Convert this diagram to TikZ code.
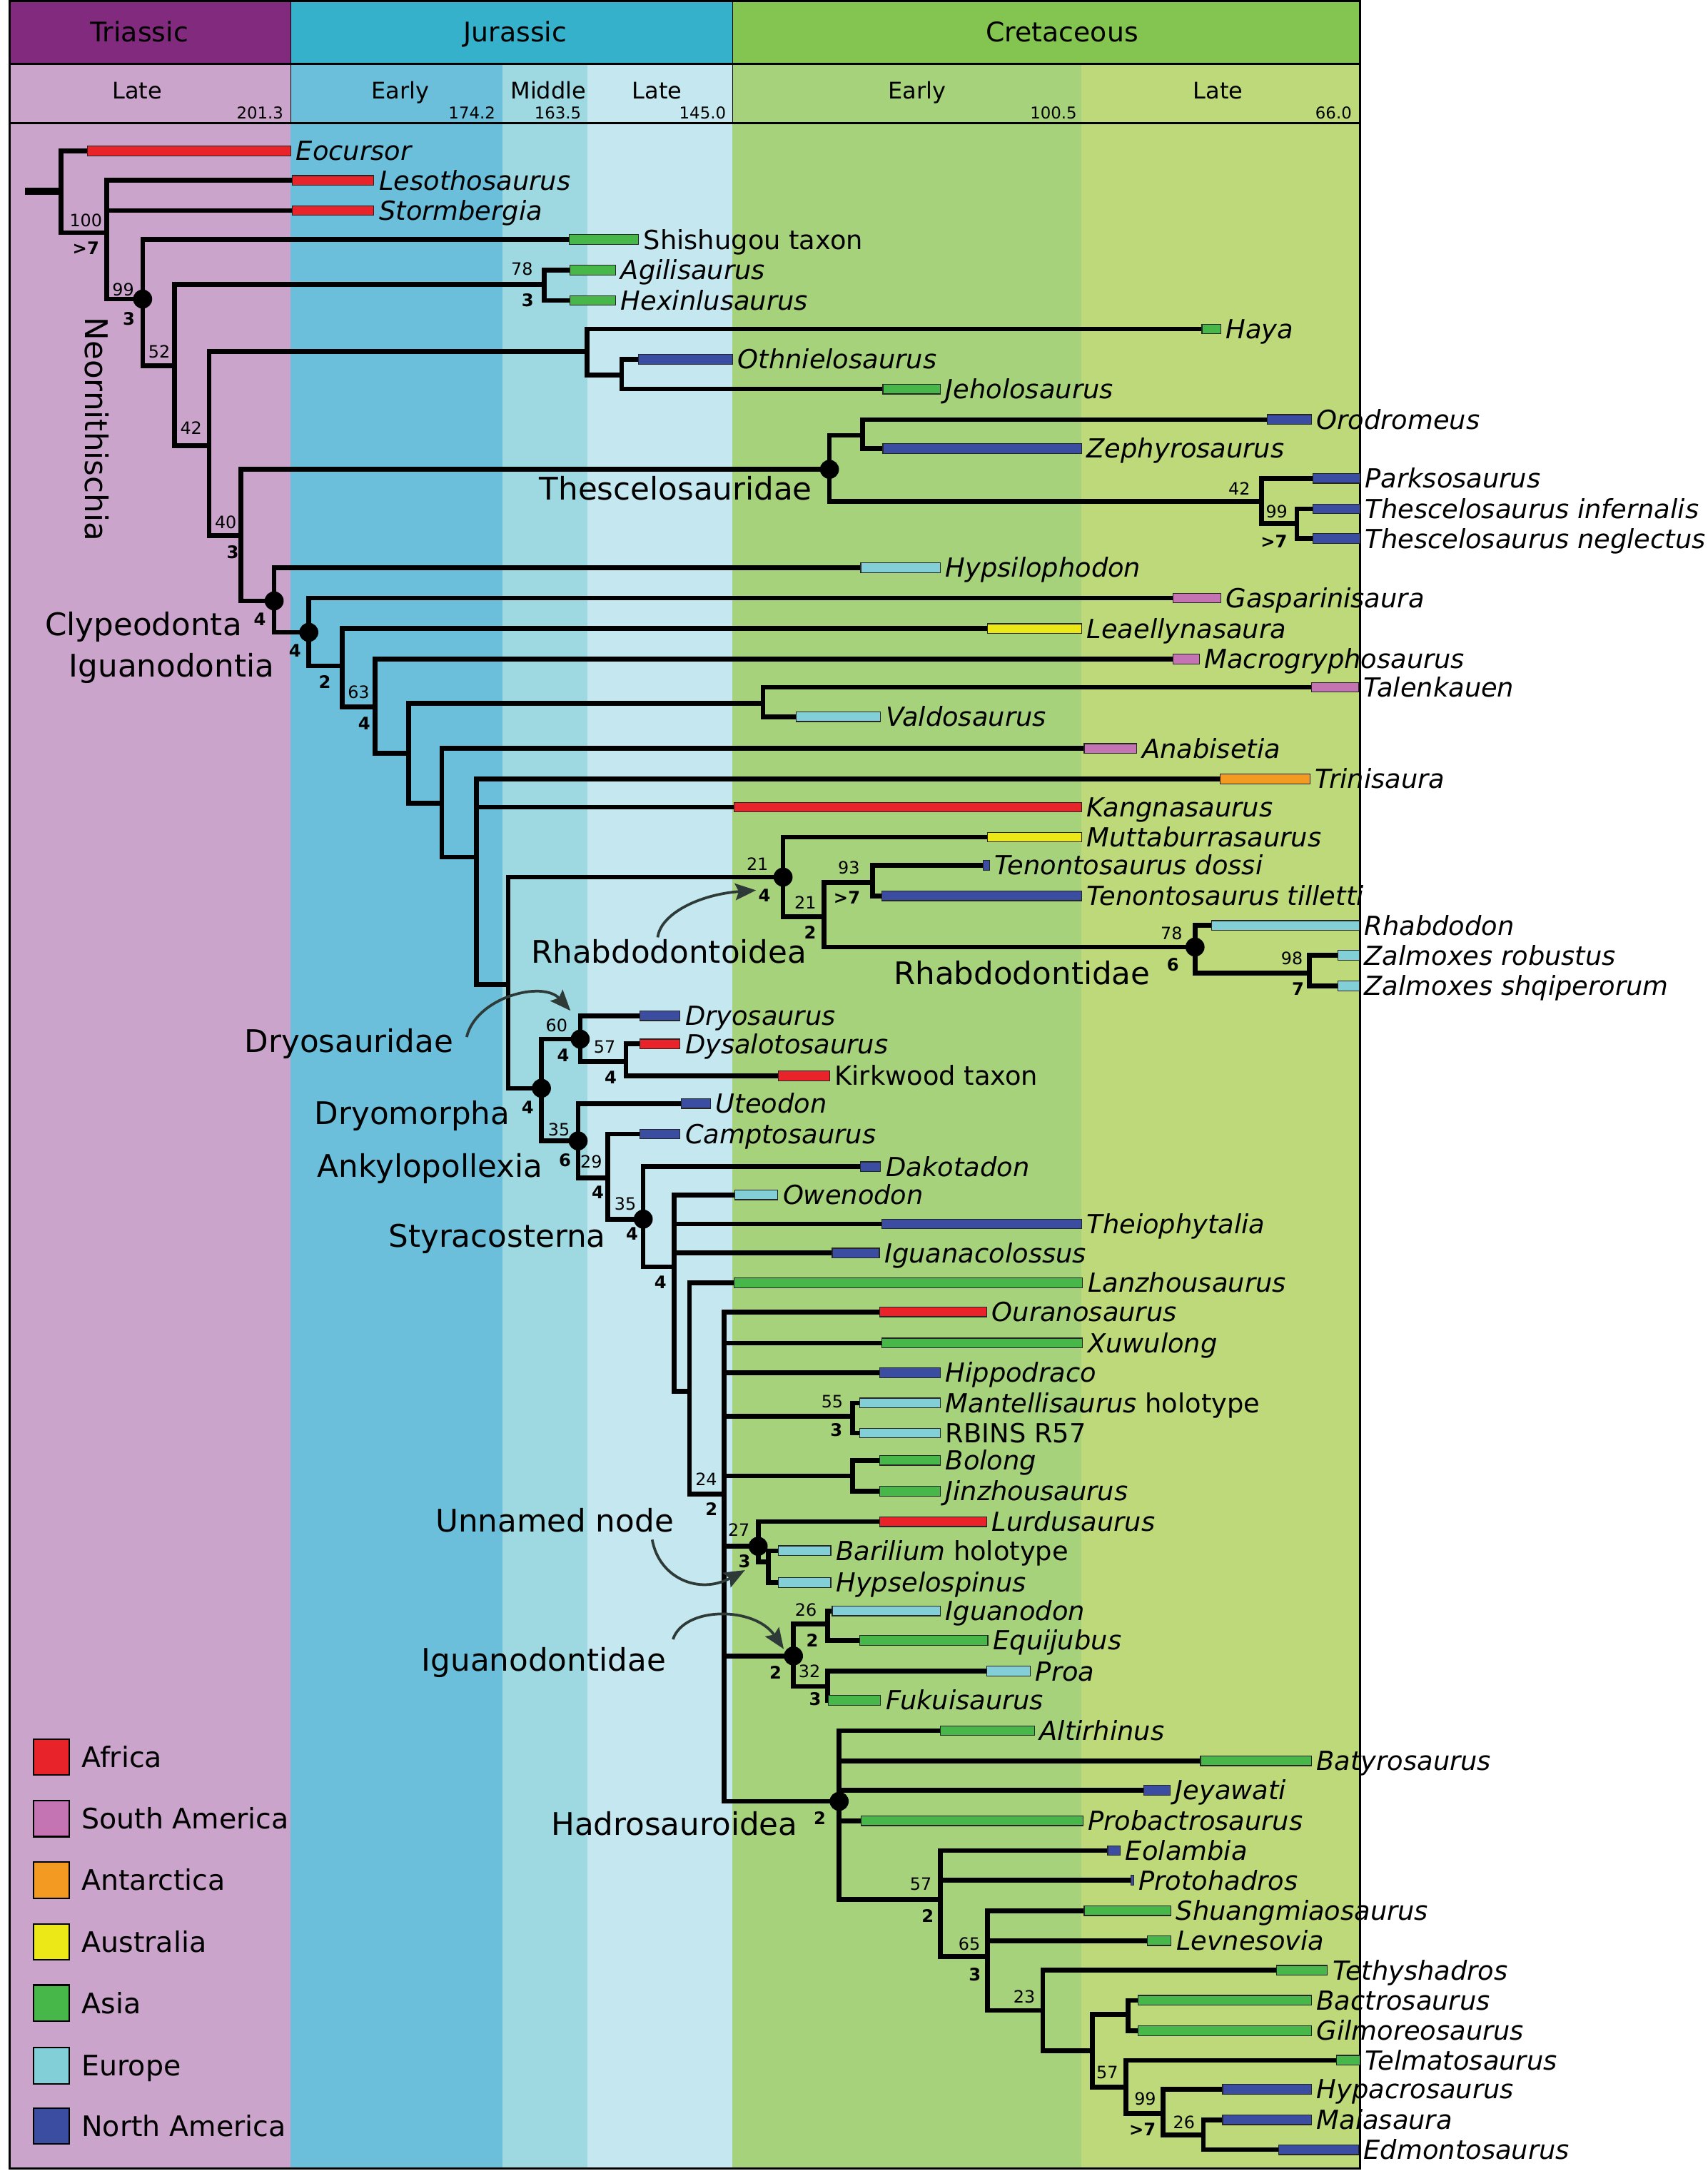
\documentclass[tikz,border=0pt]{standalone}
\usepackage{fontspec}
\setmainfont{DejaVu Sans}
\usetikzlibrary{calc,arrows.meta}
\definecolor{africa}{HTML}{E8232A}
\definecolor{samer}{HTML}{C574B3}
\definecolor{antar}{HTML}{F39A22}
\definecolor{austr}{HTML}{ECE817}
\definecolor{asia}{HTML}{48B74A}
\definecolor{europe}{HTML}{82CFD8}
\definecolor{namer}{HTML}{3A4DA1}
\definecolor{triasH}{HTML}{812A7E}
\definecolor{jurH}{HTML}{35B1CB}
\definecolor{creH}{HTML}{84C450}
\definecolor{trilate}{HTML}{CBA4CC}
\definecolor{jurearly}{HTML}{6BBFDB}
\definecolor{jurmid}{HTML}{9ED8E0}
\definecolor{jurlate}{HTML}{C5E7EF}
\definecolor{creearly}{HTML}{A7D27C}
\definecolor{crelate}{HTML}{BDD979}
\definecolor{arrowgray}{HTML}{2E3A37}
\pgfdeclarelayer{back}
\pgfdeclarelayer{lines}
\pgfsetlayers{back,lines,main}
\tikzset{
 branch/.style={line width=1.95pt, line cap=rect, line join=miter},
 bar/.style={draw=black!85, line width=0.35pt, anchor=west, minimum height=0.14cm, inner sep=0pt, outer sep=0pt},
 taxon/.style={anchor=base west, inner sep=0pt, font=\fontsize{10.8}{13}\selectfont\itshape},
 supv/.style={inner sep=0pt, font=\fontsize{7}{8}\selectfont},
 brem/.style={inner sep=0pt, font=\fontsize{7.1}{8}\selectfont\bfseries},
 clade/.style={anchor=base, inner sep=0pt, font=\fontsize{12.8}{15}\selectfont},
 dotnode/.style={circle, fill=black, minimum size=0.275cm, inner sep=0pt},
 arr/.style={draw=arrowgray, line width=1.1pt, -{Stealth[length=0.3cm,width=0.24cm,inset=0.05cm]}},
 legsq/.style={draw=black, line width=0.6pt, minimum size=0.52cm, inner sep=0pt},
 legtx/.style={anchor=base west, inner sep=0pt, font=\fontsize{11.6}{14}\selectfont},
 hdrA/.style={anchor=base, inner sep=0pt, font=\fontsize{11.1}{13}\selectfont},
 hdrB/.style={anchor=base, inner sep=0pt, font=\fontsize{9.4}{11}\selectfont},
 hnum/.style={anchor=base east, inner sep=0pt, font=\fontsize{6.7}{8}\selectfont},
}
\newcommand\mkTaxon[6]{%
  \node[bar,fill=#5,minimum width={(#4-#3)*0.02cm}] (#1) at (#3,#2) {};
  \node[taxon] (#1-l) at ($(#1.east)+(3.5,6.9)$) {#6};}
\newcommand\brs[2]{\foreach \c in {#2} {\draw[branch] (#1) |- (\c);}}
\newcommand\sv[4]{\node[supv] (#1) at (#2,#3) {#4};}
\newcommand\bv[4]{\node[brem] (#1) at (#2,#3) {#4};}
\begin{document}
\begin{tikzpicture}[x=0.02cm,y=-0.02cm]
\useasboundingbox (0,0) rectangle (1233,1568);
\begin{pgfonlayer}{back}
\fill[white] (0,0) rectangle (1233,1568);
\fill[trilate] (7,46) rectangle (210,1566);
\fill[jurearly] (210,46) rectangle (363,1566);
\fill[jurmid] (363,46) rectangle (424,1566);
\fill[jurlate] (424,46) rectangle (529,1566);
\fill[creearly] (529,46) rectangle (781,1566);
\fill[crelate] (781,46) rectangle (982,1566);
\fill[triasH] (7,1) rectangle (210,46);
\fill[jurH] (210,1) rectangle (529,46);
\fill[creH] (529,1) rectangle (982,46);
\end{pgfonlayer}
\clip (0,0) rectangle (1233,1568);
% frame
\draw[line width=0.9pt] (7,1) rectangle (982,1566);
\draw[line width=0.9pt] (7,46) -- (982,46);
\draw[line width=0.9pt] (7,89) -- (982,89);
\draw[line width=0.4pt] (210,1) -- (210,89);
\draw[line width=0.4pt] (529,1) -- (529,89);
% header text
\node[hdrA] (tTri) at (100.5,30) {Triassic};
\node[hdrA] (tJur) at (372,30) {Jurassic};
\node[hdrA] (tCre) at (767,30) {Cretaceous};
\node[hdrB] (tLT) at (99,71.3) {Late};
\node[hdrB] (tEJ) at (289,71.3) {Early};
\node[hdrB] (tMJ) at (396,71.3) {Middle};
\node[hdrB] (tLJ) at (474.6,71.3) {Late};
\node[hdrB] (tEC) at (662.4,71.3) {Early};
\node[hdrB] (tLC) at (879.7,71.3) {Late};
\node[hnum] (a1) at (205,86) {201.3};
\node[hnum] (a2) at (358,86) {174.2};
\node[hnum] (a3) at (420,86) {163.5};
\node[hnum] (a4) at (524.6,86) {145.0};
\node[hnum] (a5) at (778,86) {100.5};
\node[hnum] (a6) at (976.5,86) {66.0};
% internal nodes
\coordinate (root) at (18,138);
\coordinate (n0) at (44,138);
\coordinate (n1) at (77,168);
\coordinate (n2) at (103,216);
\coordinate (n3) at (126,264);
\coordinate (n4) at (393,205.5);
\coordinate (n5) at (151,322);
\coordinate (n6) at (424,254);
\coordinate (n6b) at (449,271);
\coordinate (n7) at (174,387);
\coordinate (thes) at (599,339);
\coordinate (thA) at (623,314.5);
\coordinate (thB) at (911,362);
\coordinate (thC) at (936.5,378);
\coordinate (clyp) at (198,434);
\coordinate (igu) at (223,456.7);
\coordinate (i2) at (247,481);
\coordinate (i3) at (271,510.7);
\coordinate (i4) at (295,544);
\coordinate (i4a) at (551,508);
\coordinate (i5) at (319,580);
\coordinate (i6) at (344,619);
\coordinate (i7) at (367,711);
\coordinate (rhoid) at (565.5,633.5);
\coordinate (r2) at (595,662);
\coordinate (r3) at (630,637.5);
\coordinate (rhid) at (863,684);
\coordinate (r4) at (945.6,702.7);
\coordinate (dryom) at (391,786);
\coordinate (dryos) at (419,750.5);
\coordinate (d2) at (452,766.6);
\coordinate (ank) at (417.5,824);
\coordinate (a2n) at (439,850.6);
\coordinate (sty) at (464.5,880.5);
\coordinate (s2n) at (487,915);
\coordinate (s3n) at (498,1004.7);
\coordinate (s4n) at (523,1079);
\coordinate (s5n) at (615.6,1023);
\coordinate (s6n) at (615.6,1066);
\coordinate (un) at (547.5,1116.8);
\coordinate (u2) at (555,1128);
\coordinate (ig) at (573,1196);
\coordinate (ig1) at (597.6,1173);
\coordinate (ig2) at (597.6,1218);
\coordinate (had) at (606,1301);
\coordinate (h2) at (679,1372);
\coordinate (h3) at (713,1413);
\coordinate (h4) at (753,1452);
\coordinate (h5) at (789,1481);
\coordinate (h6) at (814.6,1455);
\coordinate (h7) at (813,1507.5);
\coordinate (h8) at (840,1526.4);
\coordinate (h9) at (869,1542);
% taxa
\mkTaxon{eocursor}{109}{63}{210}{africa}{Eocursor}
\mkTaxon{lesotho}{130.3}{211}{270}{africa}{Lesothosaurus}
\mkTaxon{stormb}{152}{211}{270}{africa}{Stormbergia}
\mkTaxon{shishu}{173}{411}{461}{asia}{\textup{Shishugou taxon}}
\mkTaxon{agili}{195}{411.6}{444.5}{asia}{Agilisaurus}
\mkTaxon{hexin}{217}{411.6}{444.5}{asia}{Hexinlusaurus}
\mkTaxon{haya}{237.6}{868}{881.5}{asia}{Haya}
\mkTaxon{othni}{259.5}{461}{529}{namer}{Othnielosaurus}
\mkTaxon{jeholo}{281}{637.6}{679}{asia}{Jeholosaurus}
\mkTaxon{orodr}{303}{915}{947}{namer}{Orodromeus}
\mkTaxon{zephy}{324}{637.6}{781}{namer}{Zephyrosaurus}
\mkTaxon{parks}{345.5}{948}{982}{namer}{Parksosaurus}
\mkTaxon{tinf}{367.5}{948}{982}{namer}{Thescelosaurus infernalis}
\mkTaxon{tneg}{389}{948}{982}{namer}{Thescelosaurus neglectus}
\mkTaxon{hypsi}{410}{621.6}{679}{europe}{Hypsilophodon}
\mkTaxon{gaspa}{432}{847}{881.5}{samer}{Gasparinisaura}
\mkTaxon{leael}{454}{713}{781}{austr}{Leaellynasaura}
\mkTaxon{macro}{476}{847}{866}{samer}{Macrogryphosaurus}
\mkTaxon{talen}{496.4}{947}{981}{samer}{Talenkauen}
\mkTaxon{valdo}{517.6}{575}{636}{europe}{Valdosaurus}
\mkTaxon{anabi}{540.6}{783}{821}{samer}{Anabisetia}
\mkTaxon{trini}{562.6}{881}{946}{antar}{Trinisaura}
\mkTaxon{kangn}{583}{530}{781}{africa}{Kangnasaurus}
\mkTaxon{mutta}{604.6}{713}{781}{austr}{Muttaburrasaurus}
\mkTaxon{tdoss}{625}{710}{714.5}{namer}{Tenontosaurus dossi}
\mkTaxon{ttill}{647}{637}{781}{namer}{Tenontosaurus tilletti}
\mkTaxon{rhabd}{668.4}{875}{981.5}{europe}{Rhabdodon}
\mkTaxon{zrob}{690}{966}{981.5}{europe}{Zalmoxes robustus}
\mkTaxon{zshq}{712}{966}{981.5}{europe}{Zalmoxes shqiperorum}
\mkTaxon{dryosa}{733.6}{462}{491}{namer}{Dryosaurus}
\mkTaxon{dysal}{754}{462}{491}{africa}{Dysalotosaurus}
\mkTaxon{kirkw}{777}{562}{599}{africa}{\textup{Kirkwood taxon}}
\mkTaxon{uteod}{797}{492}{513}{namer}{Uteodon}
\mkTaxon{campt}{819}{462}{491}{namer}{Camptosaurus}
\mkTaxon{dakot}{842.6}{621.5}{636}{namer}{Dakotadon}
\mkTaxon{oweno}{863}{530.6}{561.6}{europe}{Owenodon}
\mkTaxon{theio}{884}{637}{781}{namer}{Theiophytalia}
\mkTaxon{iguco}{905}{601}{635}{namer}{Iguanacolossus}
\mkTaxon{lanzh}{926.5}{530}{781.7}{asia}{Lanzhousaurus}
\mkTaxon{ourano}{947.5}{635.4}{712.6}{africa}{Ouranosaurus}
\mkTaxon{xuwul}{970}{637}{781.7}{asia}{Xuwulong}
\mkTaxon{hippo}{991.4}{635.4}{679}{namer}{Hippodraco}
\mkTaxon{mante}{1013.3}{621}{679}{europe}{Mantellisaurus \textup{holotype}}
\mkTaxon{rbins}{1035}{621}{679}{europe}{\textup{RBINS R57}}
\mkTaxon{bolong}{1054.7}{635.4}{679}{asia}{Bolong}
\mkTaxon{jinzh}{1077}{635.4}{679}{asia}{Jinzhousaurus}
\mkTaxon{lurdu}{1099}{635.4}{712.6}{africa}{Lurdusaurus}
\mkTaxon{baril}{1120}{562}{600}{europe}{Barilium \textup{holotype}}
\mkTaxon{hypse}{1143}{562}{600}{europe}{Hypselospinus}
\mkTaxon{iguan}{1163.5}{601}{679}{europe}{Iguanodon}
\mkTaxon{equij}{1184.7}{621}{713.4}{asia}{Equijubus}
\mkTaxon{proa}{1207}{712.6}{744}{europe}{Proa}
\mkTaxon{fukui}{1228}{598}{636}{asia}{Fukuisaurus}
\mkTaxon{altir}{1250}{679}{747}{asia}{Altirhinus}
\mkTaxon{batyr}{1271.7}{867}{947}{asia}{Batyrosaurus}
\mkTaxon{jeyaw}{1293}{826}{845}{namer}{Jeyawati}
\mkTaxon{probac}{1315}{622}{782}{asia}{Probactrosaurus}
\mkTaxon{eolam}{1336.5}{800}{809}{namer}{Eolambia}
\mkTaxon{proto}{1358}{816.6}{818.6}{namer}{Protohadros}
\mkTaxon{shuan}{1380}{783}{845.5}{asia}{Shuangmiaosaurus}
\mkTaxon{levne}{1401.6}{828.6}{845.6}{asia}{Levnesovia}
\mkTaxon{tethy}{1423}{922}{958.5}{asia}{Tethyshadros}
\mkTaxon{bactr}{1444.7}{822}{947}{asia}{Bactrosaurus}
\mkTaxon{gilmo}{1466.6}{822}{947}{asia}{Gilmoreosaurus}
\mkTaxon{telma}{1488}{965}{982}{asia}{Telmatosaurus}
\mkTaxon{hypac}{1509}{883}{947}{namer}{Hypacrosaurus}
\mkTaxon{maias}{1531}{883}{947}{namer}{Maiasaura}
\mkTaxon{edmon}{1552.6}{923.6}{981}{namer}{Edmontosaurus}
% branches
\begin{pgfonlayer}{lines}
\draw[line width=3pt] (root) -- (n0);
\brs{n0}{eocursor.west,n1}
\brs{n1}{lesotho.west,stormb.west,n2}
\brs{n2}{shishu.west,n3}
\brs{n3}{n4,n5}
\brs{n4}{agili.west,hexin.west}
\brs{n5}{n6,n7}
\brs{n6}{haya.west,n6b}
\brs{n6b}{othni.west,jeholo.west}
\brs{n7}{thes,clyp}
\brs{thes}{thA,thB}
\brs{thA}{orodr.west,zephy.west}
\brs{thB}{parks.west,thC}
\brs{thC}{tinf.west,tneg.west}
\brs{clyp}{hypsi.west,igu}
\brs{igu}{gaspa.west,i2}
\brs{i2}{leael.west,i3}
\brs{i3}{macro.west,i4}
\brs{i4}{i4a,i5}
\brs{i4a}{talen.west,valdo.west}
\brs{i5}{anabi.west,i6}
\brs{i6}{trini.west,kangn.west,i7}
\brs{i7}{rhoid,dryom}
\brs{rhoid}{mutta.west,r2}
\brs{r2}{r3,rhid}
\brs{r3}{tdoss.west,ttill.west}
\brs{rhid}{rhabd.west,r4}
\brs{r4}{zrob.west,zshq.west}
\brs{dryom}{dryos,ank}
\brs{dryos}{dryosa.west,d2}
\brs{d2}{dysal.west,kirkw.west}
\brs{ank}{uteod.west,a2n}
\brs{a2n}{campt.west,sty}
\brs{sty}{dakot.west,s2n}
\brs{s2n}{oweno.west,theio.west,iguco.west,s3n}
\brs{s3n}{lanzh.west,s4n}
\brs{s4n}{ourano.west,xuwul.west,hippo.west,s5n,s6n,un,ig,had}
\brs{s5n}{mante.west,rbins.west}
\brs{s6n}{bolong.west,jinzh.west}
\brs{un}{lurdu.west,u2}
\brs{u2}{baril.west,hypse.west}
\brs{ig}{ig1,ig2}
\brs{ig1}{iguan.west,equij.west}
\brs{ig2}{proa.west,fukui.west}
\brs{had}{altir.west,batyr.west,jeyaw.west,probac.west,h2}
\brs{h2}{eolam.west,proto.west,h3}
\brs{h3}{shuan.west,levne.west,h4}
\brs{h4}{tethy.west,h5}
\brs{h5}{h6,h7}
\brs{h6}{bactr.west,gilmo.west}
\brs{h7}{telma.west,h8}
\brs{h8}{hypac.west,h9}
\brs{h9}{maias.west,edmon.west}
\end{pgfonlayer}
% dots
\foreach \d in {n2,thes,clyp,igu,rhoid,rhid,dryom,dryos,ank,sty,un,ig,had}
  {\node[dotnode] (\d-dot) at (\d) {};}
% support values
\sv{v1}{62}{159}{100}
\sv{v2}{89}{209}{99}
\sv{v3}{115}{254}{52}
\sv{v4}{138}{309}{42}
\sv{v5}{163}{377}{40}
\sv{v6}{377}{194}{78}
\sv{v7}{895}{353}{42}
\sv{v8}{922}{369.5}{99}
\sv{v9}{259}{500}{63}
\sv{v10}{547}{623.8}{21}
\sv{v11}{581.6}{651.6}{21}
\sv{v12}{613}{626.7}{93}
\sv{v13}{846}{674}{78}
\sv{v14}{933}{692}{98}
\sv{v15}{402}{740.6}{60}
\sv{v16}{436.6}{756}{57}
\sv{v17}{403.6}{816}{35}
\sv{v18}{427}{839}{29}
\sv{v19}{451.6}{869.6}{35}
\sv{v20}{510}{1068.5}{24}
\sv{v21}{601}{1012.5}{55}
\sv{v22}{533.6}{1105}{27}
\sv{v23}{582}{1163}{26}
\sv{v24}{584.6}{1207}{32}
\sv{v25}{665}{1361}{57}
\sv{v26}{700}{1404}{65}
\sv{v27}{739.7}{1442}{23}
\sv{v28}{799.6}{1496.6}{57}
\sv{v29}{827}{1516}{99}
\sv{v30}{855}{1533}{26}
% Bremer values
\bv{b1}{62}{179}{>7}
\bv{b2}{93}{230}{3}
\bv{b3}{168}{399}{3}
\bv{b4}{381}{217}{3}
\bv{b5}{920}{391}{>7}
\bv{b6}{187.6}{447}{4}
\bv{b7}{213}{470}{4}
\bv{b8}{234.6}{492.6}{2}
\bv{b9}{263}{522.5}{4}
\bv{b10}{552}{646.5}{4}
\bv{b11}{585}{673.5}{2}
\bv{b12}{611.6}{648.5}{>7}
\bv{b13}{847}{696.6}{6}
\bv{b14}{937.4}{714}{7}
\bv{b15}{406.7}{762}{4}
\bv{b16}{441}{778}{4}
\bv{b17}{381}{800}{4}
\bv{b18}{408}{838}{6}
\bv{b19}{431.7}{861}{4}
\bv{b20}{456.5}{891}{4}
\bv{b21}{477}{926}{4}
\bv{b22}{513.8}{1090}{2}
\bv{b23}{604}{1033}{3}
\bv{b24}{537.6}{1127.6}{3}
\bv{b25}{586.6}{1184.6}{2}
\bv{b26}{588.7}{1227}{3}
\bv{b27}{560}{1208}{2}
\bv{b28}{592}{1313}{2}
\bv{b29}{670}{1383.5}{2}
\bv{b30}{704}{1426}{3}
\bv{b31}{825}{1538}{>7}
% clade labels
\node[inner sep=0pt, font=\fontsize{12.8}{15}\selectfont, rotate=-90] (cNeo) at (70,310) {Neornithischia};
\node[clade] (cThe) at (488,361) {Thescelosauridae};
\node[clade] (cCly) at (103.6,459) {Clypeodonta};
\node[clade] (cIgu) at (124,489) {Iguanodontia};
\node[clade] (cRho) at (483,695.5) {Rhabdodontoidea};
\node[clade] (cRhi) at (738,711) {Rhabdodontidae};
\node[clade] (cDrs) at (252,760) {Dryosauridae};
\node[clade] (cDrm) at (297.7,812) {Dryomorpha};
\node[clade] (cAnk) at (310.6,850) {Ankylopollexia};
\node[clade] (cSty) at (359,900.5) {Styracosterna};
\node[clade] (cUnn) at (400.5,1106.5) {Unnamed node};
\node[clade] (cIgd) at (392.7,1207) {Iguanodontidae};
\node[clade] (cHad) at (487,1325.5) {Hadrosauroidea};
% arrows
\coordinate (arA1) at (475,677);  \coordinate (arA2) at (546,643);
\coordinate (arB1) at (337,749);  \coordinate (arB2) at (412,730);
\coordinate (arC1) at (471,1112); \coordinate (arC2) at (538,1134);
\coordinate (arD1) at (486,1184); \coordinate (arD2) at (566,1191);
\draw[arr] (arA1) .. controls (477,660) and (505,646) .. (arA2);
\draw[arr] (arB1) .. controls (344,720) and (392,708) .. (arB2);
\draw[arr] (arC1) .. controls (476,1140) and (505,1152) .. (arC2);
\draw[arr] (arD1) .. controls (494,1160) and (545,1160) .. (arD2);
% legend
\node[legsq, fill=africa] (lg1) at (37,1269) {};
\node[legtx] (lg1t) at (58.6,1276.4) {Africa};
\node[legsq, fill=samer] (lg2) at (37,1313.5) {};
\node[legtx] (lg2t) at (58.6,1320.9) {South America};
\node[legsq, fill=antar] (lg3) at (37,1358) {};
\node[legtx] (lg3t) at (58.6,1365.4) {Antarctica};
\node[legsq, fill=austr] (lg4) at (37,1402.4) {};
\node[legtx] (lg4t) at (58.6,1409.8) {Australia};
\node[legsq, fill=asia] (lg5) at (37,1446.7) {};
\node[legtx] (lg5t) at (58.6,1454.1) {Asia};
\node[legsq, fill=europe] (lg6) at (37,1492) {};
\node[legtx] (lg6t) at (58.6,1499.4) {Europe};
\node[legsq, fill=namer] (lg7) at (37,1535.6) {};
\node[legtx] (lg7t) at (58.6,1543) {North America};
\end{tikzpicture}
\end{document}
